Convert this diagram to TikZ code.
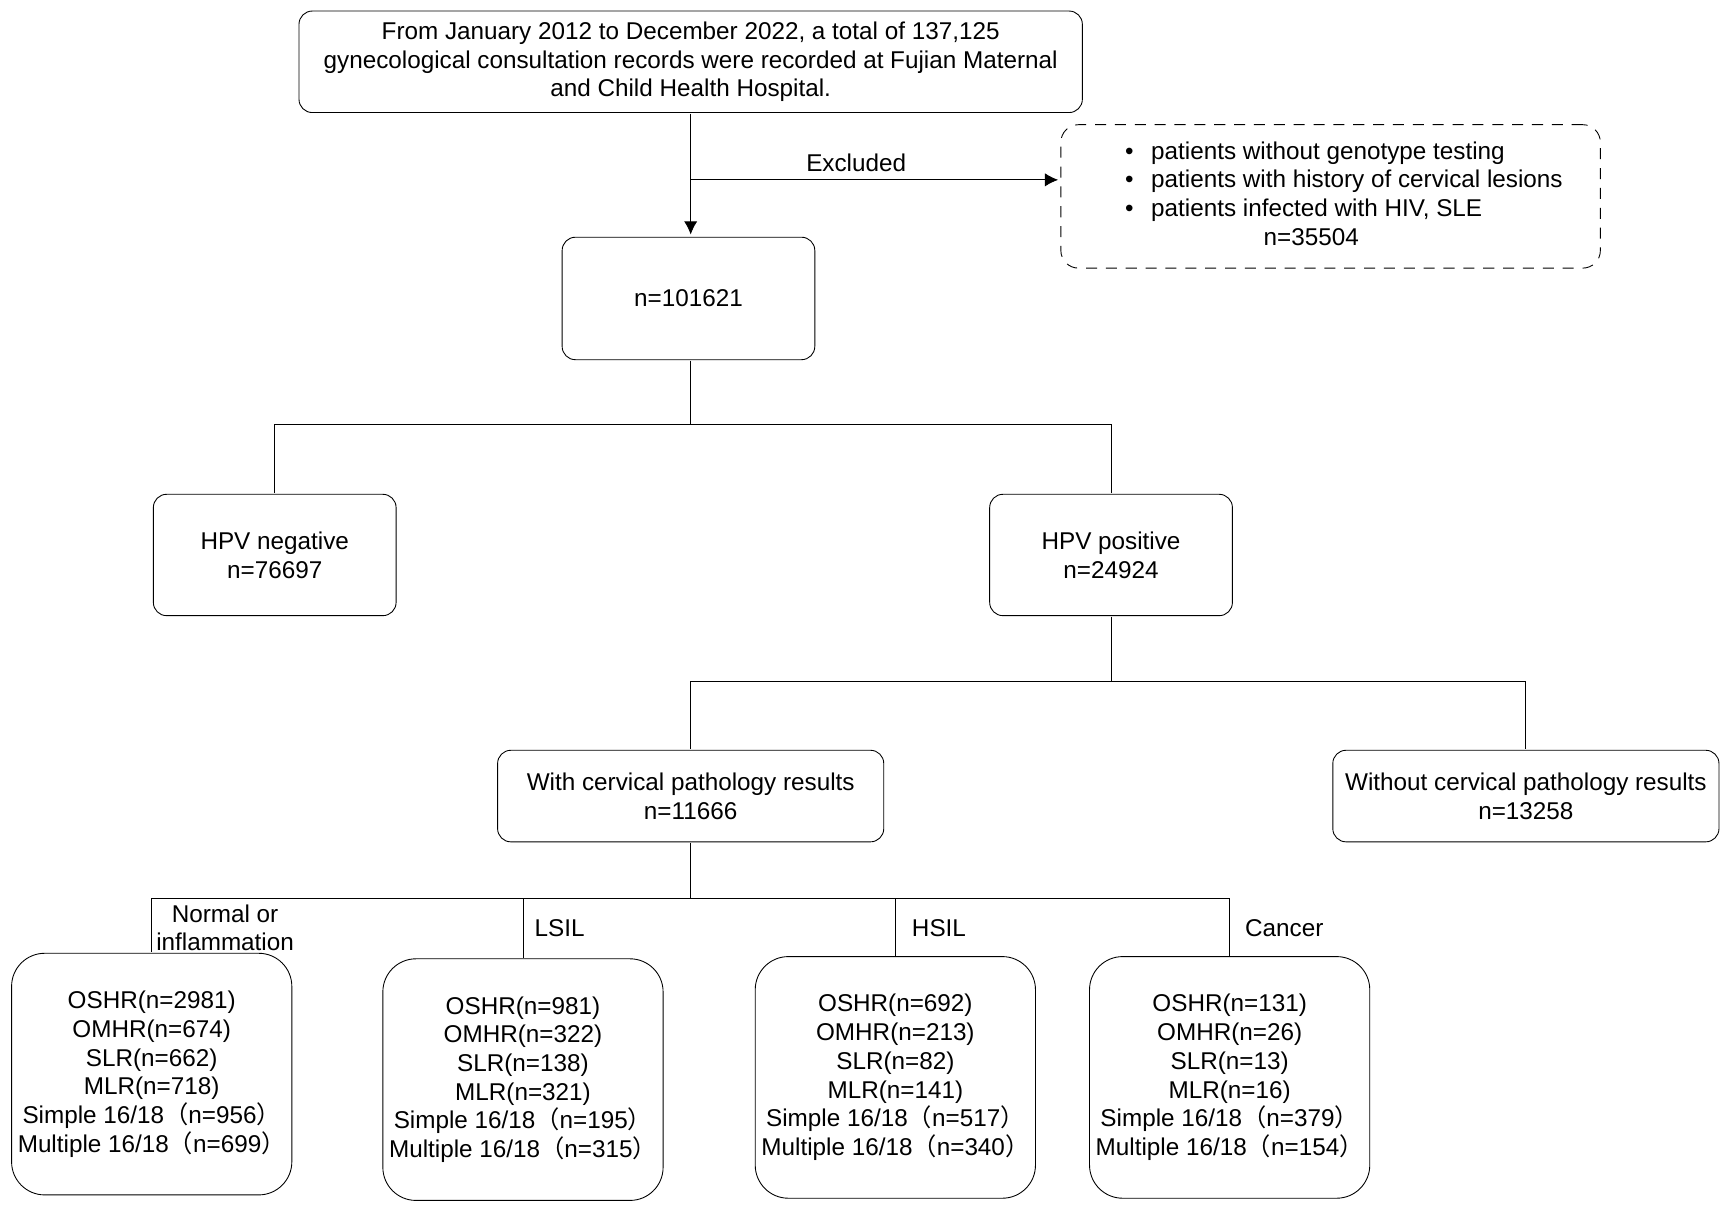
\documentclass[tikz,border=0pt]{standalone}
\usepackage{fontspec}
\setmainfont{Liberation Sans}
\newfontfamily\cjk{Noto Sans CJK SC}
\usetikzlibrary{arrows.meta}

\newcommand{\fwp}[1]{{\cjk （}#1{\cjk ）}}

\begin{document}
\begin{tikzpicture}
                \tikzset{x=0.5pt, y=-0.5pt, line width=0.9pt, >={Latex[length=7pt, width=7pt]}, font=\fontsize{11}{13}\selectfont}
                \tikzstyle{box}=[rectangle, draw, rounded corners=6pt, align=center, inner sep=0pt]
                \tikzstyle{split}=[box, minimum width=110pt, minimum height=55pt]
                \tikzstyle{path}=[box, minimum width=175pt, minimum height=41.5pt]
                \tikzstyle{leaf}=[box, rounded corners=15pt, minimum width=127pt, minimum height=109.5pt]
                \tikzstyle{excl}=[box, dashed, dash pattern=on 5pt off 4pt, rounded corners=8pt, minimum width=244.5pt, minimum height=65pt]

                \useasboundingbox (0, 0) rectangle (1568, 1099);

                % records and exclusion
                \draw (626, 56)     node[box, minimum width=355pt, minimum height=46pt] (rec)
                        {From January 2012 to December 2022, a total of 137,125\\gynecological consultation records were recorded at Fujian Maternal\\and Child Health Hospital.};
                \draw (1206, 178)   node[excl]  (excl)
                        {\begin{tabular}{@{\hspace{12pt}}c@{\hspace{8pt}}l@{}}
                         \textbullet & patients without genotype testing\\
                         \textbullet & patients with history of cervical lesions\\
                         \textbullet & patients infected with HIV, SLE\\
                                     & \hspace{51pt}n=35504
                         \end{tabular}};
                \draw (624, 270.5)  node[box, minimum width=114.5pt, minimum height=55.5pt] (all) {n=101621};

                % HPV result
                \draw (249, 503)    node[split] (neg)   {HPV negative\\n=76697};
                \draw (1007, 503)   node[split] (pos)   {HPV positive\\n=24924};

                % pathology
                \draw (626, 721.5)  node[path]  (with)  {With cervical pathology results\\n=11666};
                \draw (1383, 721.5) node[path]  (wout)  {Without cervical pathology results\\n=13258};

                % pathology groups
                \draw (137.5, 973.5) node[leaf] (norm)
                        {OSHR(n=2981)\\OMHR(n=674)\\SLR(n=662)\\MLR(n=718)\\Simple 16/18\fwp{n=956}\\Multiple 16/18\fwp{n=699}};
                \draw (474, 978.5)  node[leaf]  (lsil)
                        {OSHR(n=981)\\OMHR(n=322)\\SLR(n=138)\\MLR(n=321)\\Simple 16/18\fwp{n=195}\\Multiple 16/18\fwp{n=315}};
                \draw (811.5, 976.5) node[leaf] (hsil)
                        {OSHR(n=692)\\OMHR(n=213)\\SLR(n=82)\\MLR(n=141)\\Simple 16/18\fwp{n=517}\\Multiple 16/18\fwp{n=340}};
                \draw (1114.5, 976.5) node[leaf] (canc)
                        {OSHR(n=131)\\OMHR(n=26)\\SLR(n=13)\\MLR(n=16)\\Simple 16/18\fwp{n=379}\\Multiple 16/18\fwp{n=154}};

                % junctions
                \coordinate (jx) at (626, 163);
                \coordinate (j1) at (626, 385);
                \coordinate (j2) at (1004, 618);
                \coordinate (j3) at (626, 814);

                % annotations
                \draw (776, 148)    node        (exlab) {Excluded};
                \draw (204, 841)    node[align=center] (nlab) {Normal or\\inflammation};
                \draw (477, 841)    node[anchor=west] (llab) {LSIL};
                \draw (819, 841)    node[anchor=west] (hlab) {HSIL};
                \draw (1121, 841)   node[anchor=west] (clab) {Cancer};

                % arrows
                \draw [->]          (rec.south) -- (rec.south |- all.north);
                \draw [->]          (jx) -- (jx -| excl.west);

                % tree lines
                \draw               (all.south -| j1) -- (j1);
                \draw               (j1) -| (neg.north);
                \draw               (j1) -| (pos.north);
                \draw               (pos.south) -- (pos.south |- j2) -- (j2);
                \draw               (j2) -| (with.north);
                \draw               (j2) -| (wout.north);
                \draw               (with.south) -- (j3);
                \draw               (j3) -| (norm.north);
                \draw               (j3) -| (lsil.north);
                \draw               (j3) -| (hsil.north);
                \draw               (j3) -| (canc.north);
            \end{tikzpicture}
\end{document}
